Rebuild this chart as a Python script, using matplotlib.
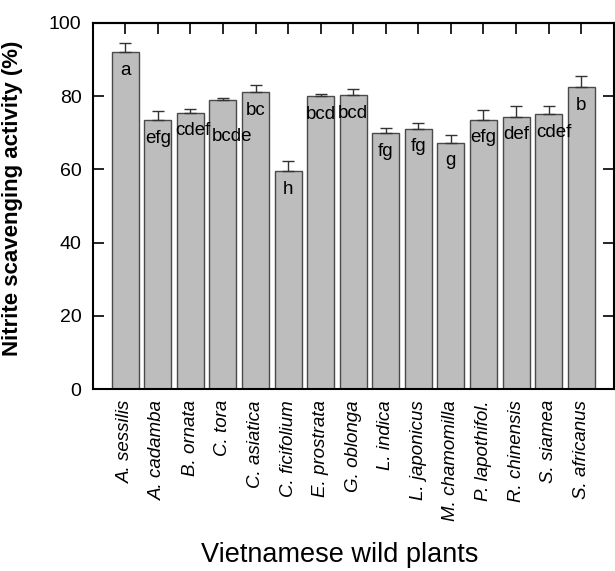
import matplotlib
matplotlib.use("Agg")
import matplotlib.pyplot as plt
import numpy as np

# ── Data ──────────────────────────────────────────────────────────────────────
PLANTS = ["A. sessilis", "A. cadamba", "B. ornata", "C. tora", "C. asiatica",
          "C. ficifolium", "E. prostrata", "G. oblonga", "L. indica",
          "L. japonicus", "M. chamomilla", "P. lapothifol.", "R. chinensis",
          "S. siamea", "S. africanus"]
ACTIVITY = [92.0, 73.5, 75.5, 79.0, 81.1, 59.5, 79.9, 80.2, 69.8, 71.1,
            67.3, 73.6, 74.4, 75.1, 82.4]
SD = [2.5, 2.5, 0.9, 0.5, 1.9, 2.9, 0.8, 1.8, 1.5, 1.6, 2.0, 2.6, 2.9, 2.3, 3.1]
LETTERS = ["a", "efg", "cdef", "bcde", "bc", "h", "bcd", "bcd", "fg", "fg",
           "g", "efg", "def", "cdef", "b"]

# ── Style ─────────────────────────────────────────────────────────────────────
BAR = "#BDBDBD"
EDGE = "#4A4A4A"
FONT = "Liberation Sans"
plt.rcParams["font.family"] = [FONT, "DejaVu Sans"]

# letter placement tweaks: drop below bar top (data units), sideways shift
LETTER_DROP = {3: 10.0}
LETTER_SHIFT = {2: 0.08, 3: 0.27, 13: 0.15}

x = np.arange(len(PLANTS))

fig = plt.figure(figsize=(6.15, 5.71), dpi=100)
ax = fig.add_axes([0.1507, 0.3187, 0.8473, 0.6413])

ax.bar(x, ACTIVITY, width=0.83, color=BAR, edgecolor=EDGE, linewidth=1.0,
       zorder=2)
ax.errorbar(x, ACTIVITY, yerr=[np.zeros(len(SD)), SD], fmt="none",
            ecolor="#333333", elinewidth=1.0, capsize=4, capthick=1.0,
            zorder=3)

for i, (v, lab) in enumerate(zip(ACTIVITY, LETTERS)):
    drop = LETTER_DROP.get(i, 5.0)
    ax.text(x[i] + LETTER_SHIFT.get(i, 0), v - drop, lab,
            ha="center", va="center", fontsize=13.5, color="black", zorder=4)

ax.set_xlim(-1, 15)
ax.set_ylim(0, 100)
ax.set_yticks(np.arange(0, 101, 20))
ax.set_xticks(x)
ax.set_xticklabels(PLANTS, rotation=90, fontstyle="italic", fontsize=13.5,
                   ha="center", va="top")

ax.tick_params(axis="y", direction="in", length=8, width=1.2, labelsize=14,
               pad=8, right=True)
ax.tick_params(axis="x", direction="in", length=0, pad=8, top=False)
# top ticks at bar centres, inward
sec = ax.secondary_xaxis("top")
sec.set_xticks(x)
sec.set_xticklabels([])
sec.tick_params(direction="in", length=8, width=1.2)
sec.spines["top"].set_linewidth(1.5)

for s in ax.spines.values():
    s.set_linewidth(1.5)
    s.set_color("black")

ax.set_ylabel("Nitrite scavenging activity (%)", fontsize=16,
              fontweight="bold")
ax.yaxis.set_label_coords(-0.133, 0.52)
ax.set_xlabel("Vietnamese wild plants", fontsize=19.5)
ax.xaxis.set_label_coords(0.474, -0.453)
ax.xaxis.label.set_va("center")

fig.savefig("out.png", dpi=100, facecolor="white")
plt.close(fig)
